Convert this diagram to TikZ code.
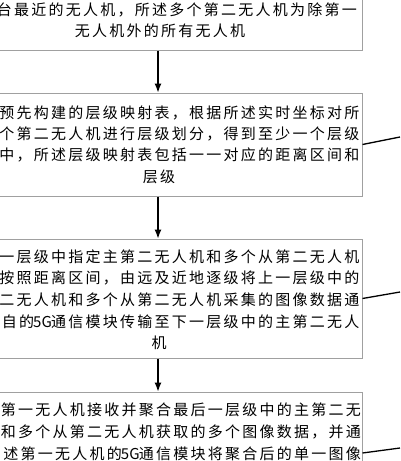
\documentclass[tikz,border=0pt]{standalone}
\usepackage{fontspec}
\newfontfamily\cjk[LetterSpace=15]{Noto Sans CJK SC}
\newfontfamily\cjkn{Noto Sans CJK SC}
\newcommand{\fiveG}{\makebox[17pt][c]{\cjkn 5G}}
\usetikzlibrary{arrows.meta}
\definecolor{boxgray}{RGB}{160,160,160}
\tikzset{
  box/.style={draw=boxgray, line width=1pt, inner sep=0pt, minimum width=408pt},
  txt/.style={font=\cjk\fontsize{15}{15}\selectfont, inner sep=0pt, text=black},
  rline/.style={txt, anchor=east},
  cline/.style={txt, anchor=center},
  flow/.style={-{Latex[length=9pt,width=7pt]}, line width=1.2pt},
  leader/.style={line width=1.3pt}
}
\begin{document}
\begin{tikzpicture}[x=1pt,y=-1pt]
\useasboundingbox (0,0) rectangle (400,461);
% boxes
\node[box, minimum height=90pt]  (b1) at (158,5) {};
\node[box, minimum height=103pt] (b2) at (158,144.5) {};
\node[box, minimum height=119pt] (b3) at (158,298.5) {};
\node[box, minimum height=122pt] (b4) at (158,453) {};
% box 1 text
\node[rline] (t1a) at (357,9.5) {台最近的无人机，所述多个第二无人机为除第一};
\node[cline] (t1b) at (160,31) {无人机外的所有无人机};
% box 2 text
\node[rline] (t2a) at (359.5,113) {预先构建的层级映射表，根据所述实时坐标对所};
\node[rline] (t2b) at (359.5,134) {个第二无人机进行层级划分，得到至少一个层级};
\node[rline] (t2c) at (359.5,155) {中，所述层级映射表包括一一对应的距离区间和};
\node[cline] (t2d) at (159,176.5) {层级};
% box 3 text
\node[rline] (t3a) at (359.5,256.5) {一层级中指定主第二无人机和多个从第二无人机};
\node[rline] (t3b) at (359.5,278) {按照距离区间，由远及近地逐级将上一层级中的};
\node[rline] (t3c) at (359.5,300) {二无人机和多个从第二无人机采集的图像数据通};
\node[rline] (t3d) at (359.5,321.5) {自的\fiveG 通信模块传输至下一层级中的主第二无人};
\node[cline] (t3e) at (159,343) {机};
% box 4 text
\node[rline] (t4a) at (361,410) {第一无人机接收并聚合最后一层级中的主第二无};
\node[rline] (t4b) at (361,431.5) {和多个从第二无人机获取的多个图像数据，并通};
\node[rline] (t4c) at (361,453.5) {述第一无人机的\fiveG 通信模块将聚合后的单一图像};
% arrows
\draw[flow] (b1.south) -- (b2.north);
\draw[flow] (b2.south) -- (b3.north);
\draw[flow] (b3.south) -- (b4.north);
% leader lines
\coordinate (l1) at (400,137);
\coordinate (l2) at (400,292);
\coordinate (l3) at (400,448);
\draw[leader] (b2.east) -- (l1);
\draw[leader] (b3.east) -- (l2);
\draw[leader] (b4.east) -- (l3);
\end{tikzpicture}
\end{document}
